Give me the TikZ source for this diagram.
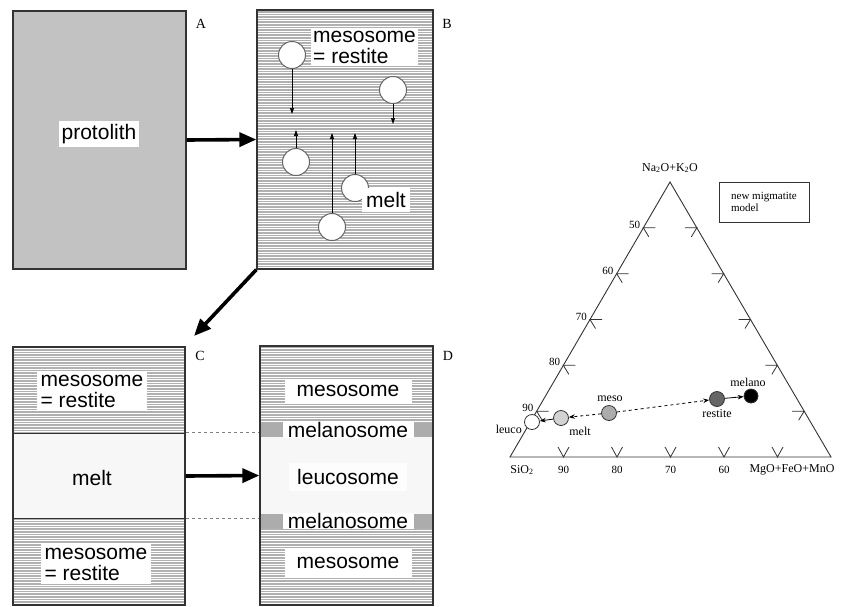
\documentclass[tikz,border=0pt]{standalone}
\usepackage{fontspec}
\setmainfont{Liberation Serif}
\newfontfamily\lsans{Liberation Sans}
\usetikzlibrary{arrows.meta,calc}
\newcommand\hatchrect[4]{%
  \fill[gray!62] (#1,#2) rectangle (#3,#4);
  \begin{scope}
    \clip (#1,#2) rectangle (#3,#4);
    \foreach \yy in {0,2.6,...,606} \draw[white,line width=0.75pt] (#1,\yy) -- (#3,\yy);
  \end{scope}}
\tikzset{
  frame/.style={draw=black!80,line width=1.3pt,inner sep=0pt},
  bigarrow/.style={line width=3.6pt,-{Triangle[length=17pt,width=14pt]}},
  smallarrow/.style={line width=0.7pt,-{Triangle[length=6pt,width=4pt]}},
  bubble/.style={circle,draw=gray!80!black,line width=1pt,fill=white,minimum size=27pt,inner sep=0pt},
  lbl/.style={fill=white,inner sep=3pt,font=\lsans\fontsize{21}{21}\selectfont},
  panel/.style={font=\fontsize{14}{14}\selectfont},
  tri/.style={line width=0.9pt,black!80},
  tick/.style={line width=0.8pt,black!80},
  tiny/.style={font=\fontsize{11}{12}\selectfont,inner sep=1pt},
  pt/.style={circle,draw=black!80,line width=0.8pt,minimum size=15pt,inner sep=0pt},
  parrow/.style={line width=0.8pt,-{Stealth[length=6pt,width=4.5pt]}},
}
\begin{document}
\begin{tikzpicture}[x=1pt,y=-1pt]
\useasboundingbox (0,0) rectangle (854,606);
\fill[white] (0,0) rectangle (854,606);
% ---------- panel A
\fill[gray!48] (13,11) rectangle (186,269);
\node[frame,minimum width=173pt,minimum height=258pt] (A) at (99.5,140) {};
\node[lbl] (protolith) at (99,134) {protolith};
\node[panel] (la) at (201,24) {A};
% ---------- panel B
\hatchrect{257}{10}{433}{269}
\node[frame,minimum width=176pt,minimum height=259pt] (B) at (345,139.5) {};
\node[panel] (lb) at (447,24) {B};
\node[lbl,anchor=north west,align=left,inner sep=2pt] (mesoB) at (311,29) {mesosome\\= restite};
\node[bubble] (b1) at (292,55) {};
\coordinate (b1e) at (292,114);
\node[bubble] (b2) at (393,90) {};
\coordinate (b2e) at (393,124);
\node[bubble] (b3) at (296,162) {};
\coordinate (b3e) at (296,130);
\node[bubble] (b4) at (355,188) {};
\coordinate (b4e) at (355,133);
\node[bubble] (b5) at (332,227) {};
\coordinate (b5e) at (332,133);
\draw[smallarrow] (b1) -- (b1e);
\draw[smallarrow] (b2) -- (b2e);
\draw[smallarrow] (b3) -- (b3e);
\draw[smallarrow] (b4) -- (b4e);
\draw[smallarrow] (b5) -- (b5e);
\node[lbl,inner sep=4pt] (meltB) at (386,200) {melt};
% ---------- panel C
\hatchrect{13}{347}{185}{433}
\fill[gray!6] (13,433) rectangle (185,518);
\hatchrect{13}{518}{185}{605}
\draw[black!80,line width=1pt] (13,433) -- (185,433) (13,518) -- (185,518);
\node[frame,minimum width=172pt,minimum height=258pt] (C) at (99,476) {};
\node[panel] (lc) at (200,356) {C};
\node[lbl,align=left,inner sep=4pt] (mesoC1) at (92,391) {mesosome\\= restite};
\node[font=\lsans\fontsize{21}{21}\selectfont] (meltC) at (92,478) {melt};
\node[lbl,align=left,inner sep=4pt] (mesoC2) at (96,564) {mesosome\\= restite};
% ---------- panel D
\hatchrect{260}{346}{433}{423}
\fill[gray!65] (260,423) rectangle (433,437);
\fill[gray!6] (260,437) rectangle (433,514);
\fill[gray!65] (260,514) rectangle (433,528);
\hatchrect{260}{528}{433}{605}
\node[frame,minimum width=173pt,minimum height=259pt] (D) at (346.5,475.5) {};
\node[panel] (ld) at (448,356) {D};
\node[lbl,minimum width=127pt,minimum height=25pt,inner sep=0pt] (mesoD1) at (348,391) {mesosome};
\node[lbl,minimum width=131pt,minimum height=15pt,inner sep=0pt] (melaD1) at (348,430) {melanosome};
\node[lbl,minimum width=118pt,minimum height=28pt,inner sep=0pt,fill=white!70!gray!6] (leucoD) at (348,477) {leucosome};
\node[lbl,minimum width=131pt,minimum height=15pt,inner sep=0pt] (melaD2) at (348,521) {melanosome};
\node[lbl,minimum width=127pt,minimum height=28pt,inner sep=0pt] (mesoD2) at (348,563) {mesosome};
% dashed links
\coordinate (c1) at (186,432); \coordinate (d1) at (259,432);
\coordinate (c2) at (186,518); \coordinate (d2) at (259,518);
\draw[gray,dashed,line width=0.6pt] (c1) -- (d1);
\draw[gray,dashed,line width=0.6pt] (c2) -- (d2);
% big arrows
\draw[bigarrow] (A.east) -- (B.west);
\draw[bigarrow] (C.east) -- (D.west);
\coordinate (bc) at (194,336);
\draw[bigarrow] (B.south west) -- (bc);
% ---------- ternary diagram
\coordinate (S) at (510,457);
\coordinate (N) at (670,182);
\coordinate (M) at (831,457);
\draw[tri] (S) -- (N) -- (M) -- cycle;
\foreach \k/\v in {1/90,2/80,3/70,4/60,5/50}{
  \coordinate (P) at ($(S)!\k/6!(N)$);
  \draw[tick] ($(P)+(12,0)$) -- (P) -- ++(5.5,9);
  \node[tiny,anchor=east] at ($(P)+(-2,-3)$) {\v};
  \coordinate (Q) at ($(M)!\k/6!(N)$);
  \draw[tick] ($(Q)+(-12,0)$) -- (Q) -- ++(-5.5,9);
  \coordinate (R) at ($(S)!\k/6!(M)$);
  \draw[tick] ($(R)+(-5.5,-10)$) -- (R) -- ++(5.5,-10);
}
\foreach \k/\v in {1/90,2/80,3/70,4/60}{
  \node[tiny] at ($(S)!\k/6!(M)+(0,13)$) {\v};
}
\node[tiny,font=\fontsize{12}{12}\selectfont] (sio) at (522,470) {SiO\textsubscript{2}};
\node[tiny,font=\fontsize{12}{12}\selectfont] (mgo) at (792,470) {MgO+FeO+MnO};
\node[tiny,font=\fontsize{12}{12}\selectfont] (nak) at (670,168) {Na\textsubscript{2}O+K\textsubscript{2}O};
\node[draw=black!80,line width=0.8pt,align=left,inner sep=4pt,font=\fontsize{11}{12}\selectfont,minimum width=90pt,minimum height=40pt] (legend) at (764,202) {new migmatite\\model};
% data points
\node[pt,fill=white] (leuco) at (532,422) {};
\node[pt,fill=gray!35] (melt) at (561,418) {};
\node[pt,fill=gray!65] (meso) at (609,413) {};
\node[pt,fill=gray!80!black] (restite) at (717,399) {};
\node[pt,fill=black,minimum size=14pt] (melano) at (751,396) {};
\draw[parrow,dashed] (meso) -- (melt);
\draw[parrow,dashed] (meso) -- (restite);
\draw[parrow] (melt) -- (leuco);
\draw[parrow] (restite) -- (melano);
\node[tiny,font=\fontsize{12}{12}\selectfont,anchor=east] (tleuco) at (523,429) {leuco};
\node[tiny,font=\fontsize{12}{12}\selectfont] (tmelt) at (580,431) {melt};
\node[tiny,font=\fontsize{12}{12}\selectfont] (tmeso) at (610,399) {meso};
\node[tiny,font=\fontsize{12}{12}\selectfont] (trest) at (717,414) {restite};
\node[tiny,font=\fontsize{12}{12}\selectfont] (tmel) at (748,382) {melano};
\end{tikzpicture}
\end{document}
